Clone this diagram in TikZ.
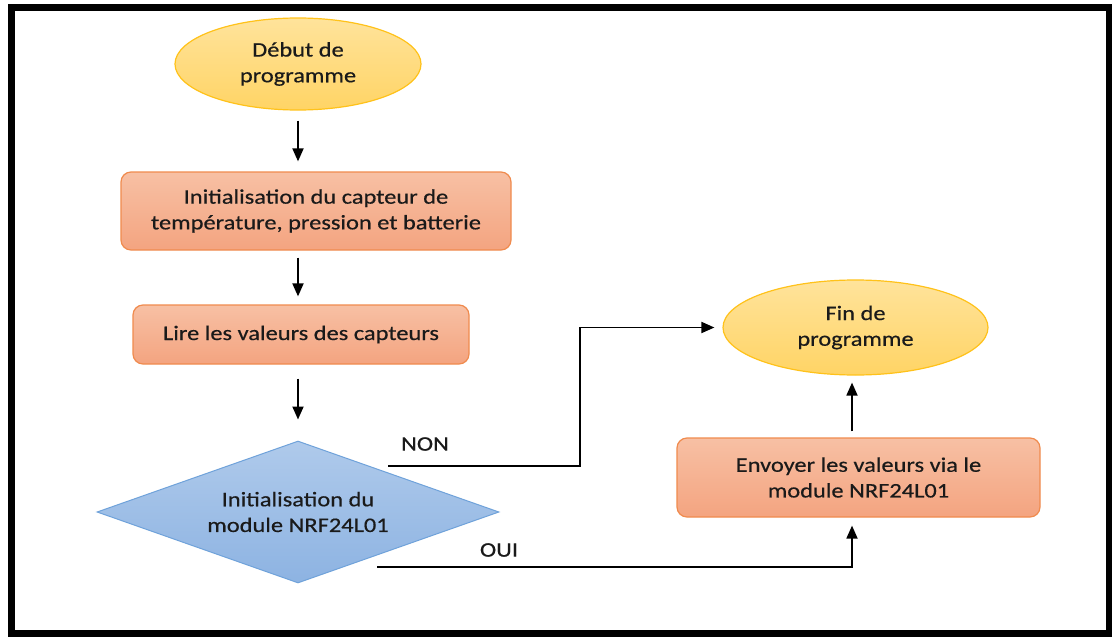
\documentclass[tikz,border=0pt]{standalone}
\usepackage{fontspec}
\setmainfont{Carlito}[FakeStretch=1.18,FakeBold=0.5]
\usetikzlibrary{shapes.geometric,arrows.meta}

\definecolor{termtop}{HTML}{FFE39B}
\definecolor{termbot}{HTML}{FFD465}
\definecolor{termline}{HTML}{FFC21A}
\definecolor{proctop}{HTML}{F7C0A4}
\definecolor{procbot}{HTML}{F4A480}
\definecolor{procline}{HTML}{F08B4E}
\definecolor{dectop}{HTML}{AFCAEB}
\definecolor{decbot}{HTML}{8DB3E2}
\definecolor{decline}{HTML}{6FA2DA}
\definecolor{txt}{HTML}{1A1A1A}

\begin{document}
\begin{tikzpicture}[x=1pt,y=-1pt,
  every node/.style={font=\fontsize{20.7}{25.7}\selectfont, text=txt, align=center},
  term/.style={ellipse, draw=termline, line width=1.2pt, top color=termtop, bottom color=termbot, inner sep=0pt},
  proc/.style={rectangle, rounded corners=10pt, draw=procline, line width=1.2pt, top color=proctop, bottom color=procbot, inner sep=4pt},
  dec/.style={diamond, aspect=2.83, draw=decline, line width=1pt, top color=dectop, bottom color=decbot, inner sep=0pt},
  lbl/.style={inner sep=0pt},
  arr/.style={-{Triangle[length=13pt,width=11pt]}, line width=1.8pt, black}]

% page and frame
\useasboundingbox (0,0) rectangle (1112,637);
\fill[white] (0,0) rectangle (1112,637);
\draw[line width=7pt] (11,7) rectangle (1109,633.5);

% flowchart nodes
\node[term, minimum width=246pt, minimum height=92pt] (debut) at (298,64) {Début de\\programme};
\node[proc, minimum width=390pt, minimum height=78pt] (init) at (316,211) {Initialisation du capteur de\\température, pression et batterie};
\node[proc, minimum width=336pt, minimum height=59pt] (lire) at (301,334.5) {Lire les valeurs des capteurs};
\node[dec, minimum width=402pt, minimum height=142pt] (nrf) at (298,512) {Initialisation du\\module NRF24L01};
\node[proc, minimum width=363pt, minimum height=79pt] (envoi) at (858.5,477.5) {Envoyer les valeurs via le\\module NRF24L01};
\node[term, minimum width=265pt, minimum height=95pt] (fin) at (855.5,327.5) {Fin de\\programme};

% branch labels
\node[lbl] (non) at (425,444) {NON};
\node[lbl] (oui) at (499,550) {OUI};

% bend points of the branches
\coordinate (nonA) at (388,466);
\coordinate (nonB) at (580,327.5);
\coordinate (ouiA) at (377,567);
\coordinate (ouiB) at (852,567);

% main sequence
\draw[arr, shorten <=10pt, shorten >=10pt] (debut.south) -- (debut.south |- init.north);
\draw[arr, shorten <=7pt, shorten >=8pt] (init.south -| debut.south) -- (debut.south |- lire.north);
\draw[arr, shorten <=14pt, shorten >=21pt] (lire.south -| debut.south) -- (nrf.north);

% NON branch
\draw[arr, shorten >=8pt, line join=miter] (nonA) -- (nonA -| nonB) -- (nonB) -- (fin.west);

% OUI branch
\draw[arr, shorten >=8pt, line join=miter] (ouiA) -- (ouiB) -- (ouiB |- envoi.south);
\draw[arr, shorten <=6pt, shorten >=7pt] (ouiB |- envoi.north) -- (ouiB |- fin.south);
\end{tikzpicture}
\end{document}
